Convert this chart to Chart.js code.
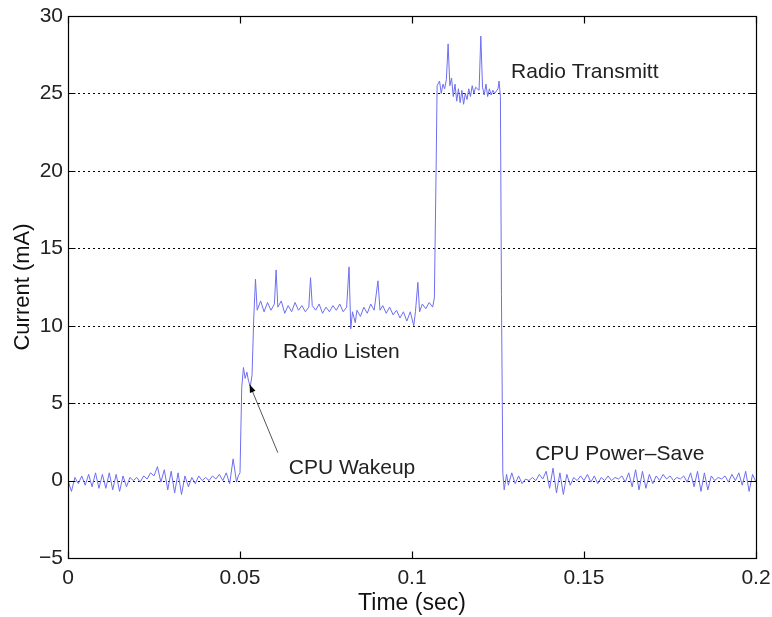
<!DOCTYPE html>
<html>
<head>
<meta charset="utf-8">
<script src="https://cdn.jsdelivr.net/npm/chart.js@4/dist/chart.umd.min.js"></script>
<style>
html,body{margin:0;padding:0;background:#fff;}
canvas{display:block;}
</style>
</head>
<body>
<canvas id="c" width="772" height="617"></canvas>
<script>
// Time (sec)
const times = [
 0.000,0.001,0.002,0.003,0.004,0.005,0.006,0.007,0.008,0.009,
 0.010,0.011,0.012,0.013,0.014,0.015,0.016,0.017,0.018,0.019,
 0.020,0.021,0.022,0.023,0.024,0.025,0.026,0.027,0.028,0.029,
 0.030,0.031,0.032,0.033,0.034,0.035,0.036,0.037,0.038,0.039,
 0.040,0.041,0.042,0.043,0.044,0.045,0.046,0.047,0.048,0.049,
 0.0495,0.0500,0.0505,0.0510,0.0515,0.0520,0.0525,0.0530,0.0535,0.0540,
 0.0545,0.0550,0.0560,0.0570,0.0580,0.0590,0.0600,0.0605,0.0610,0.0620,
 0.0630,0.0640,0.0650,0.0660,0.0670,0.0680,0.0690,0.0700,0.0705,0.0710,
 0.0720,0.0730,0.0740,0.0750,0.0760,0.0770,0.0780,0.0790,0.0800,0.0810,
 0.0817,0.0822,0.0827,0.0835,0.0840,0.0850,0.0860,0.0870,0.0880,0.0890,
 0.0901,0.0907,0.0915,0.0925,0.0935,0.0945,0.0955,0.0965,0.0975,0.0985,
 0.0995,0.1005,0.1010,0.1017,0.1022,0.1030,0.1040,0.1050,0.1060,0.1065,
 0.1070,0.1073,0.1080,0.1085,0.1090,0.1095,0.1100,0.1105,0.1110,0.1115,
 0.1120,0.1125,0.1130,0.1135,0.1140,0.1145,0.1150,0.1155,0.1160,0.1165,
 0.1170,0.1175,0.1180,0.1185,0.1195,0.1200,0.1205,0.1210,0.1215,0.1220,
 0.1225,0.1230,0.1235,0.1240,0.1250,0.1253,0.1257,0.1260,0.1264,0.1268,
 0.1275,0.128,0.129,0.130,0.131,0.132,0.133,0.134,0.135,0.136,
 0.137,0.138,0.139,0.140,0.141,0.142,0.143,0.144,0.145,0.146,
 0.147,0.148,0.149,0.150,0.151,0.152,0.153,0.154,0.155,0.156,
 0.157,0.158,0.159,0.160,0.161,0.162,0.163,0.164,0.165,0.166,
 0.167,0.168,0.169,0.170,0.171,0.172,0.173,0.174,0.175,0.176,
 0.177,0.178,0.179,0.180,0.181,0.182,0.183,0.184,0.185,0.186,
 0.187,0.188,0.189,0.190,0.191,0.192,0.193,0.194,0.195,0.196,
 0.197,0.198,0.199,0.200
];
// Current (mA)
const currents = [
 0.0,-0.7,0.2,-0.2,0.3,-0.3,0.4,-0.4,0.5,-0.5,
 0.4,-0.5,0.5,-0.6,0.4,-0.7,0.3,-0.4,0.2,0.0,
 0.2,-0.1,0.3,0.1,0.5,0.3,0.9,-0.1,0.7,-0.6,
 0.6,-0.8,0.5,-0.9,0.3,-0.4,0.2,-0.2,0.3,0.0,
 0.2,0.0,0.3,0.1,0.4,0.0,0.5,-0.2,1.4,-0.1,
 0.3,0.5,6.0,7.3,6.6,7.0,6.4,6.1,6.8,10.5,
 13.0,11.0,11.6,10.9,11.5,11.0,11.4,13.6,11.2,11.6,
 10.8,11.3,10.9,11.5,11.0,11.3,10.9,11.2,13.1,11.3,
 11.0,11.4,10.8,11.2,10.9,11.3,11.0,11.4,10.9,11.2,
 13.8,9.8,10.9,10.2,11.0,10.6,11.2,10.8,11.4,11.0,
 12.9,11.0,11.3,10.8,11.2,10.7,11.0,10.5,10.9,10.3,
 10.9,10.0,10.9,12.8,10.9,11.4,11.1,11.5,11.2,11.8,
 20.0,25.5,25.8,25.0,25.6,25.3,25.9,28.2,25.5,26.0,
 24.8,25.6,24.5,25.3,24.4,25.2,24.3,25.0,24.6,25.3,
 24.8,25.5,25.0,25.4,25.2,28.7,25.4,24.9,25.6,24.8,
 25.3,24.9,25.2,25.0,25.3,25.8,24.8,12.0,0.5,-0.6,
 0.4,-0.3,0.5,-0.2,0.3,-0.2,0.1,0.0,0.2,0.0,
 0.4,0.1,0.6,-0.5,0.8,-0.8,0.5,-0.9,0.4,-0.3,
 0.2,0.0,0.3,0.0,0.4,-0.1,0.3,-0.2,0.2,0.0,
 0.3,0.0,0.2,0.1,0.3,-0.1,0.5,-0.4,0.7,-0.6,
 0.6,-0.5,0.4,-0.2,0.3,0.0,0.4,0.1,0.3,0.0,
 0.2,0.1,0.3,-0.1,0.5,-0.4,0.6,-0.7,0.5,-0.6,
 0.3,0.0,0.2,0.1,0.3,-0.1,0.4,0.0,0.5,-0.3,
 0.6,-0.7,0.4,-0.1
];
const xTickValues = [0, 0.05, 0.1, 0.15, 0.2];
const xTickLabels = ['0', '0.05', '0.1', '0.15', '0.2'];
const yTickValues = [-5, 0, 5, 10, 15, 20, 25, 30];
const yTickLabels = ['\u22125', '0', '5', '10', '15', '20', '25', '30'];
const annotations = [
  {text: 'Radio Transmitt', x: 0.1288, y: 26.4},
  {text: 'Radio Listen', x: 0.0625, y: 8.27},
  {text: 'CPU Wakeup', x: 0.0642, y: 0.78},
  {text: 'CPU Power\u2013Save', x: 0.1358, y: 1.68}
];
const arrowFrom = {x: 0.0610, y: 1.8};
const arrowTo = {x: 0.0528, y: 6.2};

const points = times.map((t, i) => ({x: t, y: currents[i]}));
const FONT = '"Liberation Sans", Arial, Helvetica, sans-serif';

const framePlugin = {
  id: 'frame',
  beforeDatasetsDraw(chart) {
    const {ctx, chartArea: a, scales: {x, y}} = chart;
    ctx.save();
    ctx.strokeStyle = '#000';
    ctx.lineWidth = 1;
    ctx.setLineDash([2, 3]);
    yTickValues.forEach(v => {
      if (v === y.min || v === y.max) return;
      const py = Math.round(y.getPixelForValue(v)) + 0.5;
      ctx.beginPath();
      ctx.moveTo(a.left, py);
      ctx.lineTo(a.right, py);
      ctx.stroke();
    });
    ctx.restore();
  },
  afterDatasetsDraw(chart) {
    const {ctx, chartArea: a, scales: {x, y}} = chart;
    ctx.save();
    ctx.strokeStyle = '#000';
    ctx.lineWidth = 1.2;
    ctx.setLineDash([]);
    const L = Math.round(a.left) + 0.5, R = Math.round(a.right) + 0.5;
    const T = Math.round(a.top) + 0.5, B = Math.round(a.bottom) + 0.5;
    ctx.strokeRect(L, T, R - L, B - T);
    const tl = 7;
    ctx.beginPath();
    xTickValues.forEach(v => {
      const px = Math.round(x.getPixelForValue(v)) + 0.5;
      ctx.moveTo(px, B); ctx.lineTo(px, B - tl);
      ctx.moveTo(px, T); ctx.lineTo(px, T + tl);
    });
    yTickValues.forEach(v => {
      const py = Math.round(y.getPixelForValue(v)) + 0.5;
      ctx.moveTo(L, py); ctx.lineTo(L + tl, py);
      ctx.moveTo(R, py); ctx.lineTo(R - tl, py);
    });
    ctx.stroke();

    // annotations
    ctx.fillStyle = '#222';
    ctx.font = '21px ' + FONT;
    ctx.textAlign = 'left';
    ctx.textBaseline = 'middle';
    annotations.forEach(an => {
      ctx.fillText(an.text, x.getPixelForValue(an.x), y.getPixelForValue(an.y));
    });

    // arrow
    const x1 = x.getPixelForValue(arrowFrom.x), y1 = y.getPixelForValue(arrowFrom.y);
    const x2 = x.getPixelForValue(arrowTo.x), y2 = y.getPixelForValue(arrowTo.y);
    ctx.strokeStyle = '#555';
    ctx.lineWidth = 1;
    ctx.beginPath();
    ctx.moveTo(x1, y1); ctx.lineTo(x2, y2);
    ctx.stroke();
    const ang = Math.atan2(y2 - y1, x2 - x1);
    const hl = 8, hw = 3;
    ctx.fillStyle = '#000';
    ctx.beginPath();
    ctx.moveTo(x2, y2);
    ctx.lineTo(x2 - hl * Math.cos(ang) + hw * Math.sin(ang), y2 - hl * Math.sin(ang) - hw * Math.cos(ang));
    ctx.lineTo(x2 - hl * Math.cos(ang) - hw * Math.sin(ang), y2 - hl * Math.sin(ang) + hw * Math.cos(ang));
    ctx.closePath();
    ctx.fill();
    ctx.restore();
  }
};

new Chart(document.getElementById('c'), {
  type: 'line',
  data: {
    datasets: [{
      data: points,
      borderColor: 'rgb(110,110,240)',
      borderWidth: 1,
      pointRadius: 0,
      tension: 0,
      fill: false
    }]
  },
  options: {
    responsive: false,
    animation: false,
    events: [],
    layout: {padding: {top: 16, right: 16, left: 0, bottom: 0}},
    plugins: {legend: {display: false}, tooltip: {enabled: false}},
    scales: {
      x: {
        type: 'linear',
        min: 0, max: 0.2,
        afterBuildTicks(s) { s.ticks = xTickValues.map(v => ({value: v})); },
        afterFit(s) { s.height = 59; s.paddingLeft = 0; s.paddingRight = 0; },
        grid: {display: false, drawTicks: false},
        border: {display: false},
        ticks: {
          color: '#222',
          font: {family: FONT, size: 21},
          padding: 8,
          maxRotation: 0,
          autoSkip: false,
          callback: (v, i) => xTickLabels[i]
        },
        title: {
          display: true,
          text: 'Time (sec)',
          color: '#111',
          font: {family: FONT, size: 23},
          padding: {top: 0, bottom: 0}
        }
      },
      y: {
        type: 'linear',
        min: -5, max: 30,
        afterBuildTicks(s) { s.ticks = yTickValues.map(v => ({value: v})); },
        afterFit(s) { s.width = 68; s.paddingTop = 0; s.paddingBottom = 0; },
        grid: {display: false, drawTicks: false},
        border: {display: false},
        ticks: {
          color: '#222',
          font: {family: FONT, size: 21},
          padding: 5,
          autoSkip: false,
          callback: (v, i) => yTickLabels[i]
        },
        title: {
          display: true,
          text: 'Current (mA)',
          color: '#111',
          font: {family: FONT, size: 22},
          padding: {top: 10, bottom: 0}
        }
      }
    }
  },
  plugins: [framePlugin]
});
</script>
</body>
</html>
